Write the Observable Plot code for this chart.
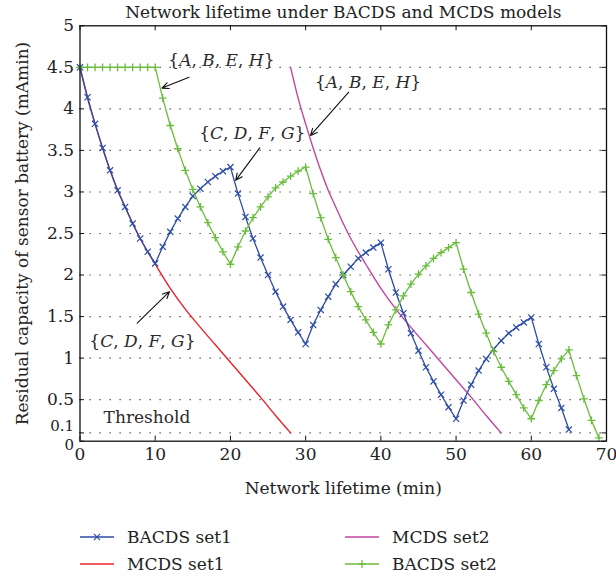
<!DOCTYPE html>
<html><head><meta charset="utf-8">
<script src="https://cdn.jsdelivr.net/npm/d3@7"></script>
<script src="https://cdn.jsdelivr.net/npm/@observablehq/plot@0.6"></script>
<style>body{margin:0;background:#fff} svg{display:block}</style>
</head><body><div id="chart"></div>
<script>
// ---- data ----
const titleText = "Network lifetime under BACDS and MCDS models";
const xLabelText = "Network lifetime (min)";
const yLabelText = "Residual capacity of sensor battery (mAmin)";
const seriesNames = ["BACDS set1", "MCDS set1", "MCDS set2", "BACDS set2"];

// BACDS set1: one value per minute, minutes 0..65
const bacds1Values = [4.50, 4.14, 3.82, 3.53, 3.26, 3.02, 2.82, 2.62, 2.44, 2.28,
  2.14, 2.34, 2.52, 2.68, 2.82, 2.95, 3.04, 3.12, 3.19, 3.25,
  3.30, 2.98, 2.70, 2.44, 2.21, 2.00, 1.80, 1.62, 1.46, 1.31,
  1.17, 1.40, 1.58, 1.74, 1.89, 2.00, 2.10, 2.20, 2.27, 2.33,
  2.39, 2.07, 1.79, 1.54, 1.30, 1.09, 0.89, 0.72, 0.56, 0.41,
  0.27, 0.49, 0.68, 0.85, 0.99, 1.11, 1.21, 1.30, 1.37, 1.43,
  1.49, 1.17, 0.89, 0.63, 0.40, 0.14];

// BACDS set2: one value per minute, minutes 0..69
const bacds2Values = [4.50, 4.50, 4.50, 4.50, 4.50, 4.50, 4.50, 4.50, 4.50, 4.50,
  4.50, 4.13, 3.80, 3.52, 3.26, 3.03, 2.82, 2.63, 2.45, 2.28,
  2.13, 2.34, 2.53, 2.69, 2.82, 2.94, 3.05, 3.12, 3.19, 3.25,
  3.30, 2.98, 2.69, 2.43, 2.21, 2.00, 1.80, 1.62, 1.46, 1.31,
  1.17, 1.40, 1.58, 1.75, 1.89, 2.01, 2.11, 2.20, 2.27, 2.33,
  2.39, 2.07, 1.79, 1.53, 1.30, 1.08, 0.89, 0.72, 0.56, 0.40,
  0.27, 0.49, 0.68, 0.85, 0.99, 1.10, 0.79, 0.51, 0.25, 0.04];

const mcds1Minutes = [0, 1, 2, 3, 4, 5, 6, 7, 8, 9, 10, 12, 14, 16, 18, 20, 22, 24, 26, 28];
const mcds1Values  = [4.50, 4.13, 3.82, 3.53, 3.26, 3.02, 2.82, 2.62, 2.44, 2.28, 2.13, 1.84, 1.59, 1.37, 1.16, 0.95, 0.74, 0.53, 0.31, 0.10];

const mcds2Minutes = [28, 29, 30, 31, 32, 33, 34, 35, 36, 37, 38, 40, 42, 44, 46, 48, 50, 52, 54, 56];
const mcds2Values  = [4.50, 4.13, 3.82, 3.53, 3.26, 3.02, 2.82, 2.62, 2.44, 2.28, 2.13, 1.84, 1.59, 1.37, 1.16, 0.95, 0.74, 0.53, 0.31, 0.10];

const xTickValues = [0, 10, 20, 30, 40, 50, 60, 70];
const yTickValues = [0, 0.1, 0.5, 1, 1.5, 2, 2.5, 3, 3.5, 4, 4.5, 5];
const gridValues = [0.1, 0.5, 1, 1.5, 2, 2.5, 3, 3.5, 4, 4.5];

const annotationLabels = ["{A, B, E, H}", "{A, B, E, H}", "{C, D, F, G}", "{C, D, F, G}", "Threshold"];
const annotationX = [18.8, 38.3, 22.9, 8.3, 8.9];
const annotationY = [4.58, 4.32, 3.70, 1.20, 0.29];

const arrowFromX = [14.5, 35.7, 23.9, 7.6];
const arrowFromY = [4.38, 4.20, 3.53, 1.42];
const arrowToX   = [10.9, 30.65, 20.7, 11.9];
const arrowToY   = [4.25, 3.68, 3.14, 1.80];

// ---- build tables ----
const bacds1 = bacds1Values.map((v, i) => ({minute: i, value: v}));
const bacds2 = bacds2Values.map((v, i) => ({minute: i, value: v}));
const mcds1 = mcds1Minutes.map((m, i) => ({minute: m, value: mcds1Values[i]}));
const mcds2 = mcds2Minutes.map((m, i) => ({minute: m, value: mcds2Values[i]}));
const annotations = annotationLabels.map((t, i) => ({text: t, x: annotationX[i], y: annotationY[i]}));
const arrows = arrowFromX.map((x, i) => ({x1: x, y1: arrowFromY[i], x2: arrowToX[i], y2: arrowToY[i]}));

const BLUE = "#2d4ca6", RED = "#e8232b", MAGENTA = "#c2459f", GREEN = "#6abd3c";
const colors = [BLUE, RED, MAGENTA, GREEN];
const FONT = "DejaVu Serif";
const FS = 17;
const fmt = d => String(d);

const chart = Plot.plot({
  width: 616,
  height: 579,
  marginLeft: 79.5,
  marginRight: 10,
  marginTop: 25.3,
  marginBottom: 138.3,
  style: {fontFamily: FONT, fontSize: FS + "px", color: "#222", background: "#fff"},
  x: {domain: [0, 70], label: null},
  y: {domain: [0, 5], label: null},
  marks: [
    Plot.ruleY(gridValues, {stroke: "#333", strokeWidth: 1.1, strokeDasharray: "1.2,8.8"}),
    // inward ticks
    Plot.ruleY(yTickValues, {x1: 0, x2: 0.6, stroke: "#111"}),
    Plot.ruleY(yTickValues, {x1: 69.4, x2: 70, stroke: "#111"}),
    Plot.ruleX(xTickValues, {y1: 0, y2: 0.06, stroke: "#111"}),
    Plot.ruleX(xTickValues, {y1: 4.94, y2: 5, stroke: "#111"}),
    // series
    Plot.line(mcds1, {x: "minute", y: "value", stroke: RED, strokeWidth: 1.4, curve: "monotone-x"}),
    Plot.line(mcds2, {x: "minute", y: "value", stroke: MAGENTA, strokeWidth: 1.4, curve: "monotone-x"}),
    Plot.line(bacds1, {x: "minute", y: "value", stroke: BLUE, strokeWidth: 1.3}),
    Plot.dot(bacds1, {x: "minute", y: "value", symbol: "times", r: 2.9, stroke: BLUE, strokeWidth: 1.2, fill: "none"}),
    Plot.line(bacds2, {x: "minute", y: "value", stroke: GREEN, strokeWidth: 1.3}),
    Plot.dot(bacds2, {x: "minute", y: "value", symbol: "plus", r: 2.6, stroke: GREEN, strokeWidth: 1.3, fill: "none"}),
    // annotations
    Plot.arrow(arrows, {x1: "x1", y1: "y1", x2: "x2", y2: "y2", stroke: "#111", strokeWidth: 1.1, headLength: 10, headAngle: 50}),
    Plot.text(annotations, {x: "x", y: "y", text: "text", fontSize: FS, fill: "#2a2a2a", lineAnchor: "middle"}),
    // frame & axes
    Plot.frame({stroke: "#111", strokeWidth: 1.3}),
    Plot.axisX({ticks: xTickValues, tickSize: 0, tickPadding: 7, label: null, tickFormat: fmt}),
    Plot.axisY({ticks: yTickValues.filter(d => d !== 0.1 && d !== 0), tickSize: 0, tickPadding: 6, label: null, tickFormat: fmt}),
    Plot.axisY({ticks: [0.1], tickSize: 0, tickPadding: 6, label: null, dy: -6.5, fontSize: 15, tickFormat: fmt}),
    Plot.axisY({ticks: [0], tickSize: 0, tickPadding: 6, label: null, dy: 3.5, fontSize: 15, tickFormat: fmt}),
    Plot.text([titleText], {frameAnchor: "top", dy: -12.8, lineAnchor: "middle", fontSize: FS}),
    Plot.text([xLabelText], {frameAnchor: "bottom", dy: 47.5, lineAnchor: "middle", fontSize: FS}),
    Plot.text([yLabelText], {frameAnchor: "left", dx: -57.5, rotate: -90, textAnchor: "middle", lineAnchor: "middle", fontSize: FS})
  ]
});

document.getElementById("chart").appendChild(chart);

// italic set letters inside braces
d3.select(chart).selectAll("text").each(function() {
  const t = this.textContent;
  if (t.startsWith("{") && this.childElementCount === 0) {
    const sel = d3.select(this);
    sel.text(null);
    for (const ch of t) {
      const sp = sel.append("tspan").text(ch === " " ? "\u00a0" : ch);
      if (/[A-Z]/.test(ch)) sp.attr("font-style", "italic");
    }
  }
});

// legend below the plot
const legend = d3.select(chart).append("g")
  .attr("font-family", FONT).attr("font-size", FS).attr("fill", "#222")
  .attr("text-anchor", "start");
const legendItems = [
  {name: seriesNames[0], color: colors[0], symbol: d3.symbolTimes, size: 26, x: 80, y: 537},
  {name: seriesNames[1], color: colors[1], symbol: null, x: 80, y: 564},
  {name: seriesNames[2], color: colors[2], symbol: null, x: 345, y: 537},
  {name: seriesNames[3], color: colors[3], symbol: d3.symbolPlus, size: 22, x: 345, y: 564}
];
for (const it of legendItems) {
  const g = legend.append("g").attr("transform", `translate(${it.x},${it.y})`);
  g.append("line").attr("x1", 0).attr("x2", 34).attr("y1", 0).attr("y2", 0)
    .attr("stroke", it.color).attr("stroke-width", 1.4);
  if (it.symbol) {
    g.append("path").attr("d", d3.symbol(it.symbol, it.size)())
      .attr("transform", "translate(17,0)").attr("fill", "none")
      .attr("stroke", it.color).attr("stroke-width", 1.2);
  }
  g.append("text").attr("x", 47).attr("y", 0).attr("dy", "0.35em")
    .attr("text-anchor", "start").text(it.name);
}
</script>
</body></html>
